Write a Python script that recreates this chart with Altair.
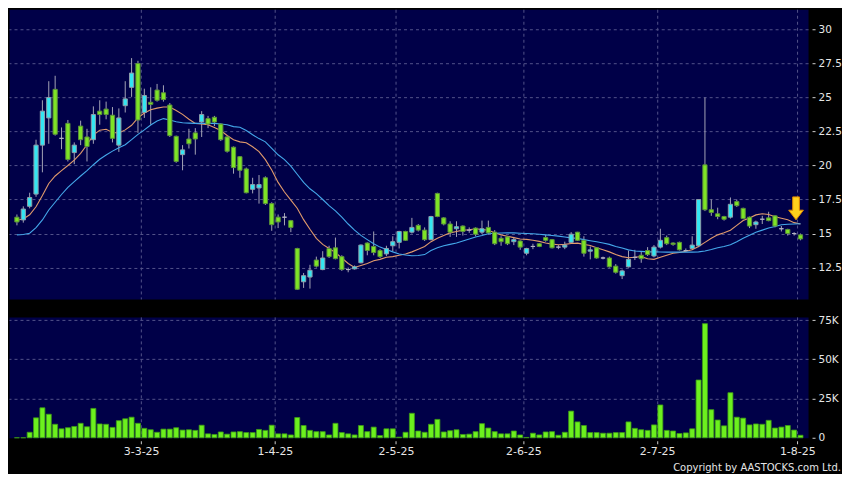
import altair as alt
import pandas as pd

# ---------------- data ----------------
date_labels = ["3-3-25", "1-4-25", "2-5-25", "2-6-25", "2-7-25", "1-8-25"]
date_pos = [19.5, 40.5, 59.5, 79.5, 100.5, 122.5]   # slot index of the month-start grid lines

opens = [16.2, 16.0, 17.0, 17.9, 21.5, 23.5, 25.6, 22.0, 23.1, 20.95,
         22.9, 22.1, 21.9, 24.0, 24.15, 23.7, 21.5, 24.4, 25.75, 27.5,
         23.9, 24.65, 25.55, 25.35, 24.45, 22.15, 20.8, 21.95, 22.4, 23.2,
         23.45, 23.55, 23.05, 22.1, 21.35, 20.65, 19.75, 18.25, 18.35, 19.1,
         17.2, 16.2, 16.2, 15.95, 13.9, 11.45, 11.8, 13.05, 12.35, 13.9,
         13.95, 13.3, 12.35, 12.4, 12.85, 14.3, 14.05, 13.75, 13.5, 14.1,
         14.35, 15.15, 15.1, 15.6, 15.25, 14.55, 17.95, 16.15, 15.7, 15.35,
         15.55, 15.25, 15.4, 15.1, 15.45, 15.1, 14.65, 14.75, 14.4, 14.45,
         13.55, 14.05, 14.25, 14.7, 14.55, 14.0, 14.0, 14.35, 15.1, 14.5,
         13.7, 13.95, 13.2, 13.2, 12.6, 11.9, 12.55, 13.25, 13.4, 13.75,
         13.35, 14.0, 14.7, 14.3, 14.35, 13.75, 13.9, 14.1, 20.05, 16.75,
         16.45, 16.25, 16.2, 17.35, 16.85, 16.2, 15.65, 16.05, 16.15, 16.3,
         15.35, 15.3, 15.0, 14.9]
highs = [16.4, 17.0, 18.0, 21.9, 24.8, 26.2, 26.6, 22.8, 23.35, 21.7,
         23.3, 22.7, 24.35, 24.8, 24.7, 24.3, 24.2, 26.2, 27.9, 27.7,
         25.65, 25.75, 26.0, 25.9, 24.6, 22.2, 21.5, 22.7, 22.75, 24.0,
         23.65, 23.65, 23.1, 22.15, 21.4, 20.7, 19.85, 19.1, 19.3, 19.2,
         17.3, 16.4, 16.5, 16.0, 13.95, 12.1, 12.7, 13.3, 13.7, 14.1,
         14.7, 13.4, 12.5, 12.65, 14.2, 14.35, 15.15, 13.85, 14.1, 14.8,
         15.2, 15.2, 16.15, 15.7, 15.45, 16.3, 18.0, 16.2, 15.9, 15.9,
         15.6, 15.45, 15.45, 15.95, 15.95, 15.25, 14.8, 14.8, 14.75, 14.5,
         13.95, 14.25, 14.3, 14.9, 14.6, 14.15, 14.4, 15.1, 15.12, 14.8,
         14.05, 13.98, 13.3, 13.3, 12.75, 12.35, 13.75, 13.8, 13.7, 14.0,
         14.15, 15.35, 14.85, 14.35, 14.4, 13.9, 14.8, 17.5, 25.0, 17.5,
         16.9, 16.3, 17.65, 17.5, 16.9, 16.25, 15.95, 16.3, 16.6, 16.35,
         15.55, 15.35, 15.1, 15.0]
lows = [15.6, 15.8, 16.85, 17.7, 19.5, 21.6, 22.2, 21.2, 20.3, 20.1,
        21.5, 20.3, 21.6, 23.0, 23.4, 21.7, 21.0, 23.9, 25.05, 22.4,
        23.5, 23.0, 24.7, 24.7, 22.1, 20.2, 19.65, 21.25, 20.8, 22.1,
        22.75, 22.9, 21.8, 20.95, 19.4, 19.1, 17.95, 17.95, 17.2, 17.1,
        15.2, 15.4, 15.6, 15.1, 10.85, 11.0, 10.95, 12.5, 12.3, 13.2,
        13.1, 12.25, 12.15, 12.35, 12.8, 13.4, 13.4, 13.2, 13.35, 13.7,
        13.9, 14.45, 15.0, 15.15, 14.45, 14.5, 16.2, 15.6, 14.75, 14.75,
        14.85, 15.05, 14.8, 14.95, 14.95, 14.15, 14.1, 14.15, 14.15, 13.8,
        13.4, 13.85, 14.0, 14.4, 13.9, 13.85, 13.85, 14.3, 14.45, 13.3,
        13.1, 13.15, 13.1, 12.5, 12.05, 11.65, 12.5, 13.05, 12.85, 13.35,
        13.25, 13.9, 14.15, 14.1, 13.75, 13.65, 13.8, 14.0, 16.65, 16.3,
        16.05, 15.95, 16.1, 16.95, 16.05, 15.4, 15.35, 15.7, 15.9, 15.45,
        15.15, 14.85, 14.85, 14.5]
closes = [15.85, 16.8, 17.65, 21.5, 24.0, 25.0, 22.3, 22.0, 20.45, 21.5,
          21.9, 21.4, 23.75, 23.75, 23.75, 22.0, 23.5, 24.9, 26.8, 23.35,
          25.15, 24.5, 24.8, 24.85, 22.2, 20.3, 21.15, 21.6, 21.95, 23.75,
          23.05, 23.2, 21.9, 21.05, 19.85, 19.65, 18.0, 18.6, 18.6, 17.2,
          15.65, 15.85, 16.2, 15.45, 10.9, 11.9, 12.3, 12.6, 13.2, 13.3,
          13.15, 12.35, 12.35, 12.55, 14.15, 13.75, 13.6, 13.3, 13.9, 14.4,
          15.15, 14.5, 15.45, 15.25, 14.55, 16.25, 16.25, 15.7, 15.1, 15.5,
          15.15, 15.25, 14.95, 15.35, 15.05, 14.25, 14.4, 14.25, 14.55, 14.0,
          13.9, 14.05, 14.05, 14.5, 13.95, 14.0, 14.15, 14.95, 14.5, 13.55,
          13.8, 13.2, 13.2, 12.55, 12.15, 12.25, 13.1, 13.25, 13.15, 13.45,
          14.0, 14.5, 14.25, 14.2, 13.8, 13.75, 14.15, 17.5, 16.75, 16.55,
          16.25, 16.05, 17.15, 17.05, 16.1, 15.55, 15.85, 16.05, 15.95, 15.55,
          15.35, 15.0, 15.0, 14.6]
ma_short = [15.97, 16.07, 16.38, 16.97, 17.8, 18.68, 19.23, 19.63, 20.0, 20.4,
            20.9, 21.53, 22.24, 22.6, 22.67, 22.43, 22.39, 22.62, 22.96, 23.5,
            23.86, 24.1, 24.22, 24.3, 24.3, 24.05, 23.76, 23.4, 23.1, 23.05,
            23.0, 22.8, 22.57, 22.21, 21.9, 21.74, 21.67, 21.38, 21.02, 20.43,
            19.67, 18.76, 18.05, 17.45, 16.86, 16.02, 15.31, 14.65, 14.2, 13.9,
            13.6, 13.2, 12.8, 12.5, 12.65, 12.8, 13.0, 13.1, 13.25, 13.3,
            13.4, 13.5, 13.65, 13.85, 14.05, 14.4, 14.65, 14.85, 15.05, 15.15,
            15.25, 15.28, 15.35, 15.3, 15.24, 15.05, 14.9, 14.8, 14.7, 14.6,
            14.57, 14.5, 14.42, 14.3, 14.22, 14.17, 14.2, 14.27, 14.29, 14.2,
            14.12, 13.95, 13.8, 13.65, 13.45, 13.3, 13.22, 13.25, 13.3, 13.15,
            13.1, 13.25, 13.4, 13.55, 13.6, 13.7, 13.8, 14.05, 14.35, 14.65,
            14.9, 15.05, 15.24, 15.6, 15.95, 16.15, 16.37, 16.45, 16.4, 16.23,
            16.12, 16.02, 15.8, 15.7]
ma_long = [14.9, 14.93, 15.02, 15.43, 16.0, 16.73, 17.3, 17.87, 18.4, 18.82,
           19.23, 19.63, 20.06, 20.46, 20.77, 21.06, 21.3, 21.53, 21.9, 22.29,
           22.62, 22.98, 23.27, 23.45, 23.35, 23.22, 23.14, 23.12, 23.1, 23.1,
           23.1, 23.1, 23.05, 23.0, 22.86, 22.81, 22.57, 22.26, 21.98, 21.74,
           21.26, 20.79, 20.43, 19.95, 19.36, 18.76, 18.29, 17.93, 17.5, 17.05,
           16.66, 16.2, 15.7, 15.25, 14.86, 14.55, 14.25, 14.0, 13.82, 13.65,
           13.49, 13.42, 13.37, 13.38, 13.45, 13.75, 13.95, 14.1, 14.2, 14.3,
           14.45, 14.6, 14.75, 14.85, 14.98, 15.02, 15.04, 15.05, 15.05, 15.02,
           15.0, 14.98, 14.95, 14.9, 14.85, 14.81, 14.75, 14.68, 14.64, 14.55,
           14.47, 14.4, 14.3, 14.2, 14.05, 13.93, 13.8, 13.72, 13.69, 13.65,
           13.65, 13.64, 13.63, 13.63, 13.63, 13.63, 13.63, 13.65, 13.72, 13.82,
           13.95, 14.05, 14.17, 14.4, 14.65, 14.88, 15.1, 15.25, 15.4, 15.52,
           15.64, 15.68, 15.7, 15.72]
volume_k = [0, 0, 3.5, 12.7, 19.1, 15.0, 8.6, 5.7, 6.4, 7.2,
            9.2, 7.0, 18.7, 8.8, 8.6, 6.6, 10.9, 12.1, 13.1, 9.2,
            6.0, 5.1, 3.5, 5.5, 5.5, 6.4, 4.9, 5.1, 4.7, 8.0,
            2.5, 2.1, 3.7, 2.3, 3.7, 3.9, 3.3, 3.3, 5.3, 4.7,
            8.0, 2.5, 2.5, 1.8, 12.9, 7.8, 4.7, 3.9, 3.9, 1.8,
            9.2, 3.3, 2.5, 1.8, 7.8, 3.9, 6.8, 1.4, 5.7, 5.7,
            0.4, 3.5, 15.6, 4.3, 3.5, 8.6, 11.7, 3.7, 4.5, 5.1,
            2.1, 2.3, 3.9, 9.0, 6.2, 3.9, 2.5, 2.5, 4.3, 1.8,
            0.2, 2.9, 1.8, 3.7, 3.9, 1.6, 3.5, 17.0, 10.1, 7.8,
            3.3, 3.3, 2.9, 2.9, 3.3, 3.3, 10.1, 6.0, 5.1, 4.7,
            8.2, 20.9, 4.7, 4.3, 2.7, 3.1, 5.7, 36.8, 72.7, 17.9,
            11.3, 7.6, 28.7, 13.1, 12.5, 8.2, 8.8, 8.6, 11.1, 6.2,
            6.8, 7.8, 4.9, 1.6]
price_ticks = [12.5, 15, 17.5, 20, 22.5, 25, 27.5, 30]
volume_ticks = [0, 25, 50, 75]
copyright_text = "Copyright by AASTOCKS.com Ltd."

# ---------------- styling ----------------
NAVY = "#000048"
GRID = "#52528a"
TXT = "#e6e6e6"
FONT = "DejaVu Sans"
W, H1, H2 = 800, 290, 121

n = len(closes)
idx = list(range(n))
direction = ["up" if c > o else ("down" if c < o else "flat") for o, c in zip(opens, closes)]
candles = pd.DataFrame({"i": idx, "open": opens, "high": highs, "low": lows,
                        "close": closes, "dir": direction})
ma_df = pd.DataFrame({"i": idx, "ma_s": ma_short, "ma_l": ma_long})
vol_df = pd.DataFrame({"i": idx, "vol": volume_k})

xscale = alt.Scale(domain=[-0.46, 123.4], nice=False, zero=False)
pscale = alt.Scale(domain=[10.19, 31.49], nice=False, zero=False)
vscale = alt.Scale(domain=[0, 77], nice=False, zero=False)

grid_kw = dict(grid=True, gridColor=GRID, gridDash=[3, 3], gridWidth=1)

x_price_axis = alt.Axis(values=date_pos, labels=False, ticks=False, domain=False,
                        title=None, **grid_kw)
y_price_axis = alt.Axis(orient="right", values=price_ticks,
                        labelExpr="toString(datum.value)", title=None,
                        domain=False, tickSize=3, tickColor="#cfcfcf", offset=4,
                        labelPadding=3, labelFont=FONT, labelFontSize=10.5,
                        labelColor=TXT, **grid_kw)

parts = []
for k in range(len(date_pos) - 1):
    mid = (date_pos[k] + date_pos[k + 1]) / 2
    parts.append(f"datum.value < {mid} ? '{date_labels[k]}' : ")
x_label_expr = "".join(parts) + f"'{date_labels[-1]}'"

x_vol_axis = alt.Axis(values=date_pos, labelExpr=x_label_expr, title=None, domain=False,
                      ticks=True, tickSize=3, tickColor="#cfcfcf", offset=3,
                      labelPadding=2, labelFont=FONT, labelFontSize=11, labelColor=TXT,
                      **grid_kw)
y_vol_axis = alt.Axis(orient="right", values=volume_ticks,
                      labelExpr="datum.value == 0 ? '0' : datum.value + 'K'",
                      title=None, domain=False, tickSize=3, tickColor="#cfcfcf", offset=4,
                      labelPadding=3, labelFont=FONT, labelFontSize=10.5, labelColor=TXT,
                      grid=True, gridColor=GRID, gridDash=[3, 3], gridWidth=1,
                      gridOpacity=alt.ExprRef(expr="datum.value == 0 ? 0 : 1"))

X = alt.X("i:Q", scale=xscale, axis=x_price_axis)

wicks = alt.Chart(candles).mark_rule(color="#a4a4b6", strokeWidth=1).encode(
    x=X,
    y=alt.Y("low:Q", scale=pscale, axis=y_price_axis),
    y2="high:Q",
)

dir_dom = ["up", "down", "flat"]
bodies = alt.Chart(candles).mark_bar(size=4.2, strokeWidth=1).encode(
    x=X,
    y=alt.Y("open:Q", scale=pscale, axis=y_price_axis),
    y2="close:Q",
    fill=alt.Fill("dir:N", scale=alt.Scale(domain=dir_dom,
                                            range=["#33e6f2", "#7ee426", "#b4b4c4"]),
                  legend=None),
    stroke=alt.Stroke("dir:N", scale=alt.Scale(domain=dir_dom,
                                                range=["#8e9eaa", "#5b923a", "#b4b4c4"]),
                      legend=None),
)

ma_s_line = alt.Chart(ma_df).mark_line(color="#e09a6c", strokeWidth=1.1).encode(
    x=X, y=alt.Y("ma_s:Q", scale=pscale, axis=y_price_axis))
ma_l_line = alt.Chart(ma_df).mark_line(color="#44a8ea", strokeWidth=1.1).encode(
    x=X, y=alt.Y("ma_l:Q", scale=pscale, axis=y_price_axis))

arrow_path = "M-0.29,-1L0.29,-1L0.29,0.16L0.64,0.16L0,1L-0.64,0.16L-0.29,0.16Z"
arrow = alt.Chart(pd.DataFrame({"a": [0]})).mark_point(
    shape=arrow_path, size=529, filled=True, fill="#ffd11c", stroke="#e08a00",
    strokeWidth=1, opacity=1,
).encode(x=alt.datum(122.3, scale=xscale), y=alt.datum(16.85, scale=pscale))

price = alt.layer(wicks, ma_s_line, ma_l_line, bodies, arrow).properties(width=W, height=H1)

XV = alt.X("i:Q", scale=xscale, axis=x_vol_axis)
vol_bars = alt.Chart(vol_df).mark_bar(size=5, fill="#6cf01e", stroke="#3d9a16",
                                      strokeWidth=0.8).encode(
    x=XV,
    y=alt.Y("vol:Q", scale=vscale, axis=y_vol_axis),
    y2=alt.datum(0),
)
copyright_mark = alt.Chart(pd.DataFrame({"t": [copyright_text]})).mark_text(
    align="right", baseline="alphabetic", font=FONT, fontSize=10, color=TXT,
).encode(x=alt.value(W + 33), y=alt.value(H2 + 33), text="t:N")

volume = alt.layer(vol_bars, copyright_mark).properties(width=W, height=H2)

chart = alt.vconcat(price, volume, spacing=14).properties(
    padding={"left": 0, "top": 0, "right": 0, "bottom": 0}
).configure(background="#000000").configure_view(fill=NAVY, stroke="transparent")

chart.save("out.html", embed_options={"renderer": "svg", "actions": False})
